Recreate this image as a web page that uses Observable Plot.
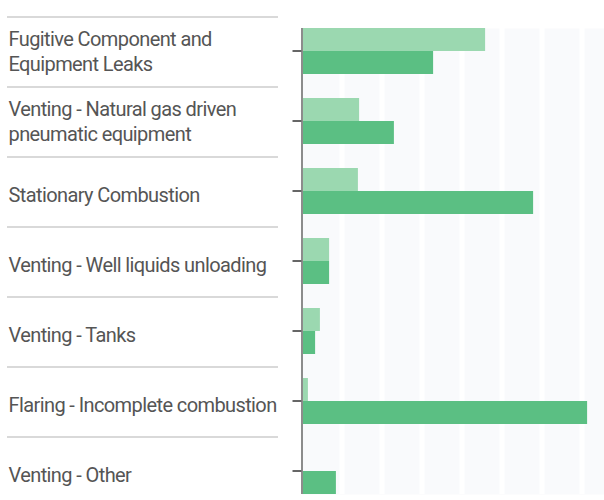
<!DOCTYPE html>
<html>
<head>
<meta charset="utf-8">
<script src="https://cdn.jsdelivr.net/npm/d3@7"></script>
<script src="https://cdn.jsdelivr.net/npm/@observablehq/plot@0.6"></script>
<style>
  html, body { margin: 0; padding: 0; background: #fff; }
  #chart svg text { letter-spacing: -0.6px; }
</style>
</head>
<body>
<div id="chart"></div>
<script>
// Categories (with wrapped display labels)
const categories = [
  "Fugitive Component and Equipment Leaks",
  "Venting - Natural gas driven pneumatic equipment",
  "Stationary Combustion",
  "Venting - Well liquids unloading",
  "Venting - Tanks",
  "Flaring - Incomplete combustion",
  "Venting - Other"
];
const labels = [
  "Fugitive Component and\nEquipment Leaks",
  "Venting - Natural gas driven\npneumatic equipment",
  "Stationary Combustion",
  "Venting - Well liquids unloading",
  "Venting - Tanks",
  "Flaring - Incomplete combustion",
  "Venting - Other"
];
// Two series (light = first, dark = second), in grid units
const seriesLight = [4.59, 1.44, 1.41, 0.69, 0.46, 0.16, 0];
const seriesDark  = [3.29, 2.31, 5.79, 0.69, 0.34, 7.14, 0.86];
const gridTicks = [1, 2, 3, 4, 5, 6, 7];
const xMax = 7.5625;

const rows = categories.map((c, i) => ({cat: c, label: labels[i], light: seriesLight[i], dark: seriesDark[i]}));
const multiRows = rows.filter(r => r.label.includes("\n"));
const singleRows = rows.filter(r => !r.label.includes("\n"));

const W = 604, H = 500, mTop = 28, mBottom = 6, mLeft = 301.5, mRight = 0;
const padInner = 0.343;
const step = (H - mTop - mBottom) / (categories.length - padInner);
const bw = step * (1 - padInner);

function guides(index, scales, values, dimensions) {
  const y = scales.y;
  const g = d3.create("svg:g");
  const b = y.bandwidth ? y.bandwidth() : bw;
  categories.forEach((c) => {
    const top = y(c) - (step - b) / 2 + 1;
    g.append("line")
      .attr("x1", 7).attr("x2", 278)
      .attr("y1", top).attr("y2", top)
      .attr("stroke", "#b4b4b4").attr("stroke-width", 1.2);
    const cy = y(c) + b / 2;
    g.append("line")
      .attr("x1", dimensions.marginLeft - 9).attr("x2", dimensions.marginLeft)
      .attr("y1", cy).attr("y2", cy)
      .attr("stroke", "#666").attr("stroke-width", 2);
  });
  return g.node();
}

const textStyle = {
  y: "cat", text: "label", frameAnchor: "left", dx: -(mLeft - 8),
  textAnchor: "start", lineHeight: 1.235, fontSize: 20, fill: "#555",
  fontFamily: "Roboto, sans-serif"
};

const chart = Plot.plot({
  width: W, height: H,
  marginTop: mTop, marginBottom: mBottom, marginLeft: mLeft, marginRight: mRight,
  style: {fontFamily: "Roboto, sans-serif", background: "#fff"},
  x: {domain: [0, xMax], axis: null},
  y: {domain: categories, paddingInner: padInner, paddingOuter: 0, axis: null},
  marks: [
    Plot.frame({fill: "#f9fafc", stroke: null}),
    Plot.ruleX(gridTicks, {stroke: "#ffffff", strokeWidth: 5}),
    Plot.barX(rows, {x: "light", y: "cat", fill: "#9bd8b0", insetBottom: bw / 2}),
    Plot.barX(rows, {x: "dark", y: "cat", fill: "#5bbf83", insetTop: bw / 2}),
    Plot.ruleX([0], {stroke: "#8c8c8c", strokeWidth: 2}),
    guides,
    Plot.text(multiRows, {...textStyle, dy: -1}),
    Plot.text(singleRows, {...textStyle, dy: 3})
  ]
});
document.getElementById("chart").appendChild(chart);
</script>
</body>
</html>
